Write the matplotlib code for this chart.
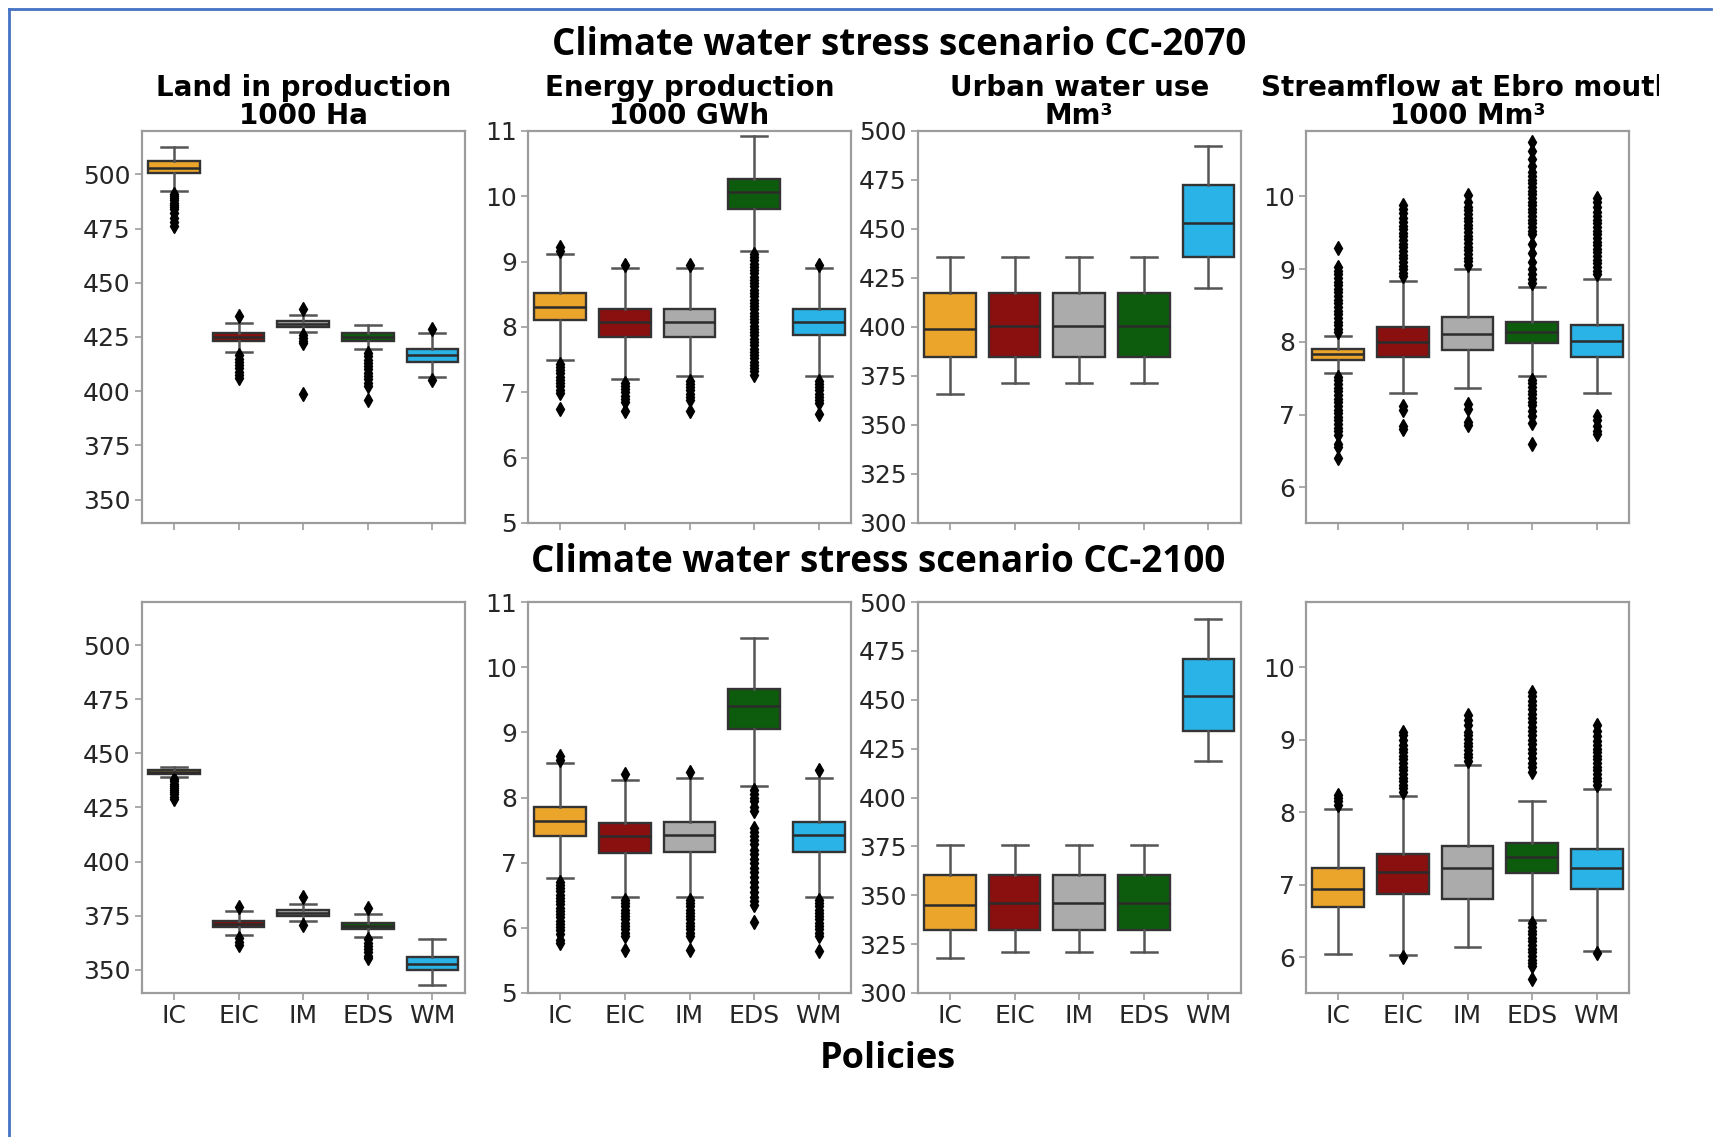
import matplotlib
matplotlib.use("Agg")
import matplotlib.pyplot as plt
from matplotlib.lines import Line2D
from matplotlib.transforms import Bbox, TransformedBbox

policies = ["IC", "EIC", "IM", "EDS", "WM"]
box_colors = ["#EBA52A", "#8A0F0F", "#ABABAB", "#0D5C0D", "#2AB3E6"]

# box stats per policy: (whisker low, q1, median, q3, whisker high)
land_2070_box = [(492.5, 500.5, 503.0, 506.0, 512.5),
                 (418.0, 423.0, 425.0, 427.0, 431.5),
                 (427.5, 429.7, 431.0, 432.5, 435.3),
                 (419.5, 423.3, 425.0, 426.7, 430.5),
                 (406.5, 413.5, 416.5, 419.3, 427.0)]
land_2070_out = [[491, 490, 489, 488, 487, 486, 485, 484, 482, 480, 478, 476],
                 [434.5, 416.5, 415, 413.5, 412, 410.5, 409, 407.5, 406],
                 [438, 426, 424.5, 423, 422, 398.5],
                 [417.5, 416, 414.5, 413, 411.5, 410, 408.5, 407, 405.5, 404, 402.5, 396],
                 [428.5, 405.3]]

land_2100_box = [(439.0, 440.4, 441.4, 442.4, 443.8),
                 (366.0, 369.5, 371.0, 372.5, 377.0),
                 (372.5, 375.0, 376.3, 377.6, 380.2),
                 (365.0, 369.0, 370.4, 371.6, 375.5),
                 (343.0, 350.0, 352.5, 356.0, 364.0)]
land_2100_out = [[438, 437, 436, 435, 434, 433, 432, 431, 430, 429],
                 [379, 364.5, 363, 361.5],
                 [383.5, 370.7],
                 [378.5, 364, 362.5, 361, 359.5, 358, 356.5, 355.5],
                 []]

energy_2070_box = [(7.49, 8.10, 8.31, 8.52, 9.12),
                   (7.20, 7.85, 8.07, 8.28, 8.90),
                   (7.25, 7.85, 8.07, 8.28, 8.90),
                   (9.17, 9.81, 10.06, 10.27, 10.93),
                   (7.25, 7.87, 8.07, 8.28, 8.90)]
energy_2070_out = [[9.17, 9.22, 7.44, 7.39, 7.34, 7.29, 7.24, 7.19, 7.14, 7.09, 7.04, 6.99, 6.75],
                   [8.95, 7.15, 7.10, 7.05, 7.00, 6.95, 6.90, 6.85, 6.72],
                   [8.95, 7.18, 7.13, 7.08, 7.03, 6.98, 6.93, 6.88, 6.72],
                   [9.12, 9.07, 9.02, 8.97, 8.92, 8.87, 8.82, 8.77, 8.72, 8.67, 8.62, 8.57,
                    8.52, 8.47, 8.42, 8.37, 8.32, 8.27, 8.22, 8.17, 8.12, 8.07, 8.02, 7.97,
                    7.92, 7.87, 7.82, 7.77, 7.72, 7.67, 7.62, 7.57, 7.52, 7.47, 7.42, 7.37,
                    7.32, 7.27],
                   [8.95, 7.18, 7.13, 7.08, 7.03, 6.98, 6.93, 6.88, 6.83, 6.67]]

energy_2100_box = [(6.76, 7.41, 7.64, 7.86, 8.53),
                   (6.48, 7.15, 7.41, 7.61, 8.27),
                   (6.48, 7.16, 7.43, 7.63, 8.30),
                   (8.17, 9.05, 9.40, 9.66, 10.45),
                   (6.48, 7.16, 7.43, 7.63, 8.30)]
energy_2100_out = [[8.58, 8.63, 6.71, 6.66, 6.61, 6.56, 6.51, 6.46, 6.41, 6.36, 6.31, 6.26,
                    6.21, 6.16, 6.11, 6.06, 6.01, 5.96, 5.90, 5.82, 5.76],
                   [8.36, 6.43, 6.38, 6.33, 6.28, 6.23, 6.18, 6.13, 6.08, 6.03, 5.98, 5.92,
                    5.87, 5.66],
                   [8.39, 6.43, 6.38, 6.33, 6.28, 6.23, 6.18, 6.13, 6.08, 6.03, 5.98, 5.92,
                    5.87, 5.66],
                   [8.12, 8.06, 8.00, 7.94, 7.86, 7.80, 7.53, 7.47, 7.41, 7.35, 7.28, 7.20,
                    7.13, 7.06, 6.99, 6.92, 6.85, 6.78, 6.70, 6.62, 6.55, 6.48, 6.41, 6.35,
                    6.09],
                   [8.42, 6.43, 6.38, 6.33, 6.28, 6.23, 6.18, 6.13, 6.08, 6.03, 5.98, 5.92,
                    5.87, 5.65]]

urban_2070_box = [(365.6, 384.8, 399.1, 417.6, 435.8),
                  (371.5, 384.8, 400.5, 417.6, 435.8),
                  (371.5, 384.8, 400.5, 417.6, 435.8),
                  (371.5, 384.8, 400.5, 417.6, 435.8),
                  (419.8, 435.5, 453.0, 472.3, 492.3)]
urban_2070_out = [[], [], [], [], []]

urban_2100_box = [(317.9, 332.2, 344.8, 360.4, 375.8),
                  (320.9, 332.2, 346.1, 360.4, 375.8),
                  (320.9, 332.2, 346.1, 360.4, 375.8),
                  (320.9, 332.2, 346.1, 360.4, 375.8),
                  (418.6, 434.2, 451.7, 470.8, 491.2)]
urban_2100_out = [[], [], [], [], []]

stream_2070_box = [(7.57, 7.75, 7.83, 7.90, 8.08),
                   (7.30, 7.79, 8.00, 8.21, 8.84),
                   (7.36, 7.89, 8.11, 8.34, 9.00),
                   (7.53, 7.98, 8.14, 8.27, 8.75),
                   (7.30, 7.79, 8.01, 8.23, 8.87)]
stream_2070_out = [[8.13, 8.18, 8.23, 8.28, 8.33, 8.38, 8.43, 8.48, 8.53, 8.58, 8.63, 8.68,
                    8.73, 8.78, 8.83, 8.88, 8.93, 8.98, 9.03, 9.29,
                    7.52, 7.47, 7.42, 7.37, 7.32, 7.27, 7.22, 7.17, 7.12, 7.07, 7.02, 6.97,
                    6.92, 6.87, 6.82, 6.77, 6.72, 6.60, 6.55, 6.41],
                   [8.90, 8.95, 9.00, 9.05, 9.10, 9.15, 9.20, 9.25, 9.30, 9.35, 9.40, 9.45,
                    9.50, 9.55, 9.60, 9.65, 9.70, 9.77, 9.83, 9.88,
                    7.12, 7.06, 6.85, 6.80],
                   [9.06, 9.11, 9.16, 9.21, 9.26, 9.31, 9.36, 9.41, 9.46, 9.51, 9.56, 9.61,
                    9.66, 9.71, 9.76, 9.81, 9.86, 9.92, 10.02,
                    7.14, 7.08, 6.90, 6.86],
                   [8.81, 8.87, 8.93, 9.00, 9.10, 9.22, 9.35, 9.48, 9.53, 9.58, 9.63, 9.68,
                    9.73, 9.78, 9.83, 9.88, 9.93, 9.98, 10.03, 10.08, 10.13, 10.18, 10.23,
                    10.28, 10.33, 10.42, 10.52, 10.63, 10.75,
                    7.48, 7.43, 7.38, 7.33, 7.28, 7.23, 7.18, 7.13, 7.05, 6.98, 6.88, 6.60],
                   [8.93, 8.98, 9.03, 9.08, 9.13, 9.18, 9.23, 9.28, 9.33, 9.38, 9.43, 9.48,
                    9.53, 9.58, 9.63, 9.68, 9.73, 9.78, 9.85, 9.92, 9.98,
                    6.98, 6.93, 6.85, 6.78, 6.74]]

stream_2100_box = [(6.05, 6.69, 6.94, 7.24, 8.05),
                   (6.03, 6.87, 7.18, 7.43, 8.23),
                   (6.14, 6.81, 7.24, 7.54, 8.65),
                   (6.52, 7.16, 7.38, 7.58, 8.15),
                   (6.09, 6.94, 7.23, 7.49, 8.32)]
stream_2100_out = [[8.10, 8.15, 8.20, 8.24],
                   [8.28, 8.33, 8.38, 8.43, 8.48, 8.53, 8.58, 8.63, 8.68, 8.73, 8.78, 8.83,
                    8.88, 8.93, 9.00, 9.06, 9.11, 6.00],
                   [8.71, 8.76, 8.81, 8.86, 8.91, 8.96, 9.01, 9.06, 9.11, 9.20, 9.28, 9.34],
                   [8.56, 8.62, 8.68, 8.75, 8.82, 8.88, 8.94, 9.00, 9.06, 9.12, 9.18, 9.24,
                    9.30, 9.36, 9.42, 9.48, 9.54, 9.60, 9.66,
                    6.47, 6.42, 6.37, 6.32, 6.27, 6.22, 6.17, 6.12, 6.07, 6.02, 5.97, 5.92,
                    5.88, 5.70],
                   [8.38, 8.43, 8.48, 8.53, 8.58, 8.63, 8.68, 8.73, 8.78, 8.83, 8.88, 8.93,
                    8.98, 9.05, 9.12, 9.20, 6.06]]

panel_titles = ["Land in production\n1000 Ha", "Energy production\n1000 GWh",
                "Urban water use\nMm\u00b3", "Streamflow at Ebro mouth\n1000 Mm\u00b3"]
ylims = [(339.2, 520), (5, 11), (300, 500), (5.51, 10.9)]
yticks = [[350, 375, 400, 425, 450, 475, 500], [5, 6, 7, 8, 9, 10, 11],
          [300, 325, 350, 375, 400, 425, 450, 475, 500], [6, 7, 8, 9, 10]]

W, H = 1719, 1137
fig = plt.figure(figsize=(W / 100, H / 100), dpi=100)

frame_gray = "#9C9C9C"
line_gray = "#555555"


def px_axes(left, top, right, bottom):
    return fig.add_axes([left / W, 1 - bottom / H, (right - left) / W, (bottom - top) / H])


def draw_panel(ax, boxes, outliers, col, show_labels):
    stats = []
    for name, (lo, q1, med, q3, hi), out in zip(policies, boxes, outliers):
        stats.append(dict(label=name, whislo=lo, q1=q1, med=med, q3=q3, whishi=hi, fliers=out))
    parts = ax.bxp(stats, positions=range(5), widths=0.8, capwidths=0.4, patch_artist=True,
                   boxprops=dict(edgecolor="#333333", linewidth=1.7),
                   whiskerprops=dict(color=line_gray, linewidth=1.8),
                   capprops=dict(color=line_gray, linewidth=1.8),
                   medianprops=dict(color="#2b2b2b", linewidth=1.8),
                   flierprops=dict(marker="d", markerfacecolor="black", markeredgecolor="black",
                                   markersize=7, linestyle="none"))
    for patch, c in zip(parts["boxes"], box_colors):
        patch.set_facecolor(c)
    ax.set_xlim(-0.5, 4.5)
    ax.set_ylim(*ylims[col])
    ax.set_yticks(yticks[col])
    for s in ax.spines.values():
        s.set_color(frame_gray)
        s.set_linewidth(1.6)
    ax.tick_params(colors=frame_gray, labelcolor="#262626", labelsize=18, length=5, width=1.2,
                   pad=3)
    if show_labels:
        ax.set_xticklabels(policies)
    else:
        ax.set_xticklabels([])


lefts = [141.7, 528, 917.7, 1306]
width = 323
rows = [(131, 523), (602, 993)]
data_2070 = [(land_2070_box, land_2070_out), (energy_2070_box, energy_2070_out),
             (urban_2070_box, urban_2070_out), (stream_2070_box, stream_2070_out)]
data_2100 = [(land_2100_box, land_2100_out), (energy_2100_box, energy_2100_out),
             (urban_2100_box, urban_2100_out), (stream_2100_box, stream_2100_out)]

for r, row_data in enumerate([data_2070, data_2100]):
    top, bottom = rows[r]
    for c, (boxes, outs) in enumerate(row_data):
        ax = px_axes(lefts[c], top, lefts[c] + width, bottom)
        draw_panel(ax, boxes, outs, c, show_labels=(r == 1))
        if r == 0:
            t = ax.set_title(panel_titles[c], fontsize=20, fontweight="bold", pad=5,
                             linespacing=0.98)
            clip = TransformedBbox(Bbox([[0, 0], [1659 / W, 1]]), fig.transFigure)
            t.set_clip_box(clip)
            t.set_clip_on(True)

fig.text(899 / W, 1 - 45 / H, "Climate water stress scenario CC-2070", ha="center", va="center",
         fontsize=26.5, fontweight="bold", family="Open Sans")
fig.text(878 / W, 1 - 562 / H, "Climate water stress scenario CC-2100", ha="center", va="center",
         fontsize=26.5, fontweight="bold", family="Open Sans")
fig.text(888 / W, 1 - 1059 / H, "Policies", ha="center", va="center",
         fontsize=26, fontweight="bold", family="Open Sans")

# blue frame around the figure (top and left edges)
fig.add_artist(Line2D([9 / W, 1711 / W], [1 - 9 / H, 1 - 9 / H], transform=fig.transFigure,
                      color="#4472C4", linewidth=2))
fig.add_artist(Line2D([9 / W, 9 / W], [1 - 9 / H, 0], transform=fig.transFigure,
                      color="#4472C4", linewidth=2))

fig.savefig("out.png", dpi=100)
